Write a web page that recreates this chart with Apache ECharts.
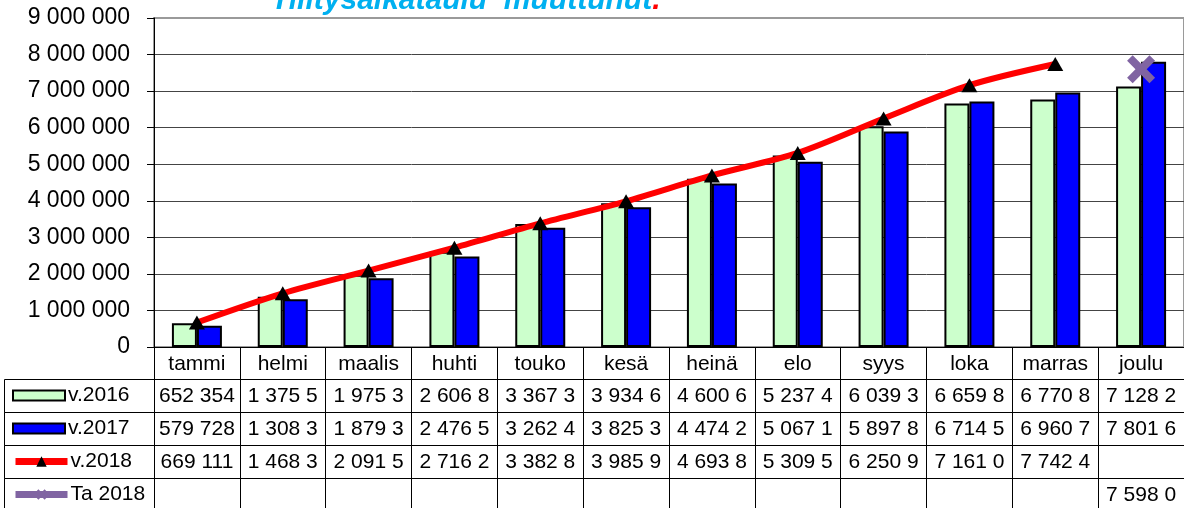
<!DOCTYPE html>
<html><head><meta charset="utf-8">
<script src="https://cdn.jsdelivr.net/npm/echarts@6/dist/echarts.min.js"></script>
<style>html,body{margin:0;padding:0;background:#fff}#c{width:1184px;height:508px}</style>
</head><body><div id="c"></div>
<script>
const categories = ['tammi','helmi','maalis','huhti','touko','kesä','heinä','elo','syys','loka','marras','joulu'];
const seriesNames = ['v.2016','v.2017','v.2018','Ta 2018'];
const v2016 = [652354, 1375550, 1975350, 2606850, 3367350, 3934650, 4600650, 5237450, 6039350, 6659850, 6770850, 7128250];
const v2017 = [579728, 1308350, 1879350, 2476550, 3262450, 3825350, 4474250, 5067150, 5897850, 6714550, 6960750, 7801650];
const v2018 = [669111, 1468350, 2091550, 2716250, 3382850, 3985950, 4693850, 5309550, 6250950, 7161050, 7742450, null];
const ta2018 = [null, null, null, null, null, null, null, null, null, null, null, 7598050];
const titleText = 'Tilitysaikataulu  muuttunut';

const FONT = 'Liberation Sans, Arial, sans-serif';
const fmt = n => String(n).replace(/\B(?=(\d{3})+(?!\d))/g, '\u0020');
// data table cells show only as many characters as fit in a cell
const cell = n => (n == null ? '' : fmt(n).slice(0, 7));
const tableRows = [v2016, v2017, v2018, ta2018];

const ROW0 = 32, ROWH = 33; // header row height, value row height
const xAxes = [{
  type: 'category', data: categories, position: 'bottom', gridIndex: 0,
  axisLine: { onZero: false, lineStyle: { color: '#000', width: 1 } },
  axisTick: { show: true, interval: 0, length: ROW0, lineStyle: { color: '#000', width: 1 } },
  axisLabel: { interval: 0, margin: 7, fontSize: 21, color: '#000', fontFamily: FONT },
  splitLine: { show: false }
}];
tableRows.forEach((row, r) => {
  xAxes.push({
    type: 'category', data: categories, position: 'bottom', gridIndex: 0,
    offset: ROW0 + ROWH * r,
    axisLine: { onZero: false, lineStyle: { color: '#000', width: 1 } },
    axisTick: { show: true, interval: 0, length: ROWH, lineStyle: { color: '#000', width: 1 } },
    axisLabel: { interval: 0, margin: 7, fontSize: 21, color: '#000', fontFamily: FONT,
      formatter: (v, i) => cell(row[i]) },
    splitLine: { show: false }
  });
});

const xPath = 'path://M0,2 L2,0 L5,3 L8,0 L10,2 L7,5 L10,8 L8,10 L5,7 L2,10 L0,8 L3,5 Z';

const legends = seriesNames.map((name, i) => ({
  data: [name], orient: 'horizontal', left: 12, top: 347 + ROW0 + ROWH * i + 6,
  padding: 0, itemWidth: 52, itemHeight: i < 2 ? 10 : 13, itemGap: 0,
  icon: i < 2 ? 'rect' : undefined,
  selectedMode: false,
  textStyle: { fontSize: 21, color: '#000', fontFamily: FONT, padding: [2, 0, 0, -2] },
  lineStyle: i < 2 ? undefined : { width: 7 }
}));

const graphics = seriesNames.map((n, i) => ({
  type: 'rect', silent: true, z: 1,
  shape: { x: 4.5, y: 347 + ROW0 + ROWH * i + 0.5, width: 150, height: ROWH },
  style: { fill: 'none', stroke: '#000', lineWidth: 1 }
}));

const option = {
  animation: false,
  backgroundColor: '#fff',
  title: {
    text: '{a|' + titleText + '}{b|.}', left: 271, top: -14, padding: 0,
    textStyle: {
      rich: {
        a: { fontSize: 30, fontWeight: 'bold', fontStyle: 'italic', color: '#00B0F0', fontFamily: FONT },
        b: { fontSize: 30, fontWeight: 'bold', fontStyle: 'italic', color: '#FF0000', fontFamily: FONT }
      }
    }
  },
  legend: legends,
  grid: { left: 154, top: 18, width: 1032, height: 329, show: true, borderColor: '#9a9a9a', borderWidth: 2, containLabel: false },
  xAxis: xAxes,
  yAxis: {
    type: 'value', min: 0, max: 9000000, interval: 1000000,
    axisLine: { show: true, lineStyle: { color: '#000', width: 1 } },
    axisTick: { show: true, length: 7, lineStyle: { color: '#000' } },
    axisLabel: { fontSize: 23, color: '#000', margin: 24, fontFamily: FONT, formatter: v => fmt(v) },
    splitLine: { show: true, showMaxLine: false, lineStyle: { color: '#444', width: 1 } }
  },
  graphic: graphics,
  series: [
    { name: seriesNames[0], type: 'bar', data: v2016, barWidth: 25, barGap: '0%',
      itemStyle: { color: '#CCFFCC', borderColor: '#000', borderWidth: 2 } },
    { name: seriesNames[1], type: 'bar', data: v2017, barWidth: 25, barGap: '0%',
      itemStyle: { color: '#0000FF', borderColor: '#000', borderWidth: 2 } },
    { name: seriesNames[2], type: 'line', data: v2018, smooth: 0.3, z: 5,
      lineStyle: { color: '#FF0000', width: 6 },
      symbol: 'triangle', symbolSize: [16, 14], showAllSymbol: true,
      itemStyle: { color: '#000' } },
    { name: seriesNames[3], type: 'line', data: ta2018, z: 6,
      lineStyle: { color: '#8064A2', width: 7 },
      symbol: xPath, symbolSize: 28, showAllSymbol: true,
      itemStyle: { color: '#8064A2' } }
  ]
};
const chart = echarts.init(document.getElementById('c'), null, { renderer: 'canvas' });
chart.setOption(option);
</script></body></html>
